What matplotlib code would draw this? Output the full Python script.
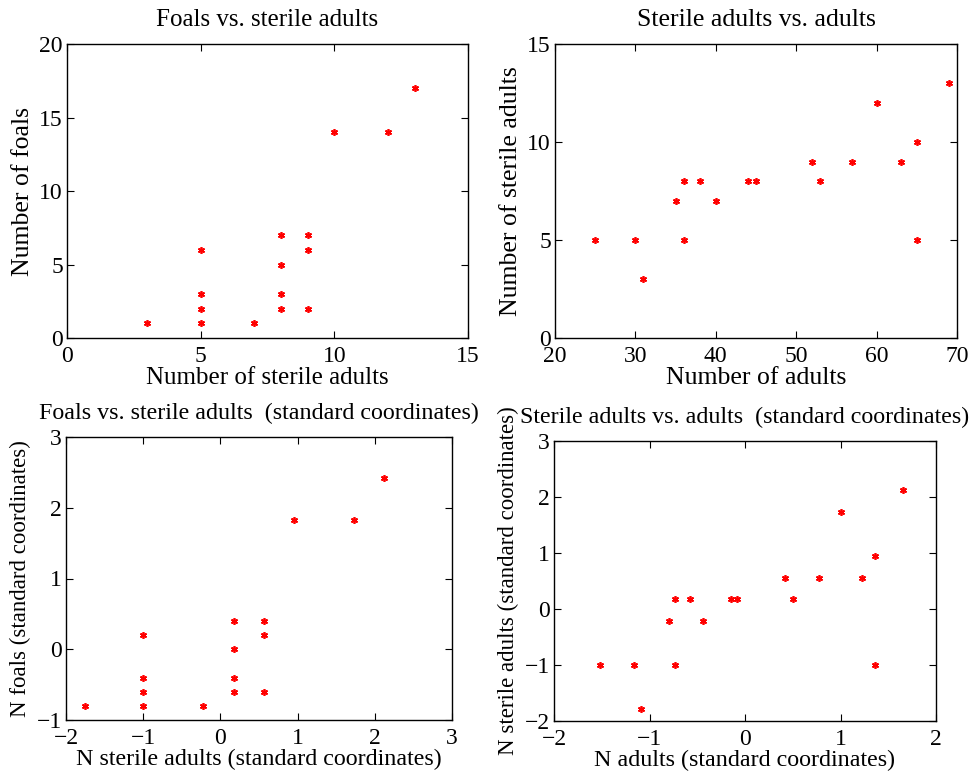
import numpy as np
import matplotlib
matplotlib.use("Agg")
import matplotlib.pyplot as plt

# --- data ---
# top left: foals vs sterile adults
sterile_a = [3, 5, 5, 5, 5, 7, 8, 8, 8, 8, 9, 9, 9, 10, 12, 13]
foals_a = [1, 1, 2, 3, 6, 1, 2, 3, 5, 7, 2, 6, 7, 14, 14, 17]

# top right: sterile adults vs adults
adults_b = [25, 30, 31, 35, 36, 36, 38, 40, 44, 45, 52, 53, 57, 60, 63, 65, 65, 69]
sterile_b = [5, 5, 3, 7, 8, 5, 8, 7, 8, 8, 9, 8, 9, 12, 9, 10, 5, 13]

# bottom left: standard coordinates
z_sterile_c = [-1.75, -1.0, -1.0, -1.0, -1.0, -0.22, 0.17, 0.17, 0.17, 0.17,
               0.56, 0.56, 0.56, 0.95, 1.73, 2.12]
z_foals_c = [-0.8, -0.8, -0.6, -0.4, 0.2, -0.8, -0.6, -0.4, 0.0, 0.4,
             -0.6, 0.2, 0.4, 1.82, 1.82, 2.42]

# bottom right: standard coordinates
z_adults_d = [-1.52, -1.16, -1.09, -0.80, -0.73, -0.73, -0.58, -0.44, -0.15, -0.08,
              0.42, 0.50, 0.78, 1.00, 1.22, 1.36, 1.36, 1.65]
z_sterile_d = [-1.0, -1.0, -1.78, -0.22, 0.17, -1.0, 0.17, -0.22, 0.17, 0.17,
               0.56, 0.17, 0.56, 1.73, 0.56, 0.95, -1.0, 2.12]

plt.rcParams['font.family'] = ['Liberation Serif', 'DejaVu Serif']
plt.rcParams['font.size'] = 17

W, H = 971, 773
fig = plt.figure(figsize=(W / 100, H / 100), dpi=100)


def make_axes(left, top, right, bottom):
    return fig.add_axes([left / W, 1 - bottom / H, (right - left) / W, (bottom - top) / H])


asterisk = (6, 2, 0)

# (axes, x, y, xlim, ylim, xticks, yticks, title, xlabel, ylabel, title size, ylabel size)
panels = [
    (make_axes(67, 44, 468, 338), sterile_a, foals_a, (0, 15), (0, 20),
     [0, 5, 10, 15], [0, 5, 10, 15, 20],
     "Foals vs. sterile adults", "Number of sterile adults", "Number of foals",
     18, 18.5),
    (make_axes(555, 44, 957, 338), adults_b, sterile_b, (20, 70), (0, 15),
     [20, 30, 40, 50, 60, 70], [0, 5, 10, 15],
     "Sterile adults vs. adults", "Number of adults", "Number of sterile adults",
     18.5, 18.5),
    (make_axes(66, 437, 452, 720), z_sterile_c, z_foals_c, (-2, 3), (-1, 3),
     [-2, -1, 0, 1, 2, 3], [-1, 0, 1, 2, 3],
     "Foals vs. sterile adults  (standard coordinates)",
     "N sterile adults (standard coordinates)", "N foals (standard coordinates)",
     17.3, 16.5),
    (make_axes(554, 441, 936, 721), z_adults_d, z_sterile_d, (-2, 2), (-2, 3),
     [-2, -1, 0, 1, 2], [-2, -1, 0, 1, 2, 3],
     "Sterile adults vs. adults  (standard coordinates)",
     "N adults (standard coordinates)", "N sterile adults (standard coordinates)",
     17.3, 16.5),
]

for ax, xs, ys, xl, yl, xt, yt, title, xlabel, ylabel, fs, yfs in panels:
    ax.plot(xs, ys, linestyle='none', marker=asterisk, markersize=5,
            color='red', markeredgewidth=1.2)
    ax.set_xlim(*xl)
    ax.set_ylim(*yl)
    ax.set_xticks(xt)
    ax.set_yticks(yt)
    ax.set_xticklabels([str(v).replace('-', '\u2212') for v in xt])
    ax.set_yticklabels([str(v).replace('-', '\u2212') for v in yt])
    ax.tick_params(direction='in', top=True, right=True, length=5, width=0.8,
                   labelsize=17)
    ax.tick_params(axis='x', pad=6)
    ax.tick_params(axis='y', pad=3)
    for s in ax.spines.values():
        s.set_linewidth(1.0)
    ax.set_title(title, fontsize=fs, pad=13)
    ax.set_xlabel(xlabel, fontsize=fs, labelpad=0)
    ax.set_ylabel(ylabel, fontsize=yfs, labelpad=4)

fig.savefig("out.png", dpi=100)
